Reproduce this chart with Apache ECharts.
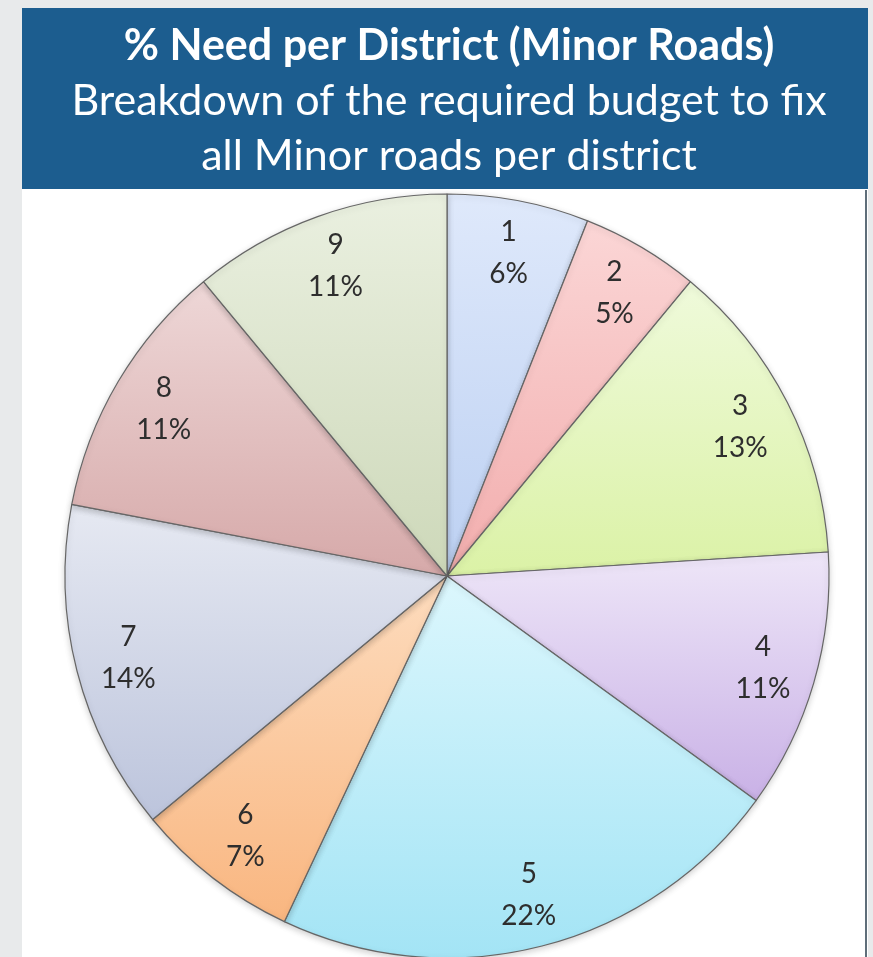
<!DOCTYPE html>
<html>
<head>
<meta charset="utf-8">
<script src="https://cdn.jsdelivr.net/npm/echarts@6/dist/echarts.min.js"></script>
<style>
html,body{margin:0;padding:0;background:#e8eaeb;}
#chart{width:873px;height:957px;}
</style>
</head>
<body>
<div id="chart"></div>
<script>
var districts = ['1','2','3','4','5','6','7','8','9'];
var shares = [6, 5, 13, 11, 22, 7, 14, 11, 11];
var titleMain = '% Need per District (Minor Roads)';
var titleSub = 'Breakdown of the required budget to fix\nall Minor roads per district';
var colorsTop = ['#dfe9fb','#fbd6d6','#effadb','#eee6f8','#dcf7fd','#fddcbe','#e6e9f2','#eed7d7','#eaf0e0'];
var colorsBottom = ['#bcd0f2','#f2adad','#dbf2a6','#c9b1e6','#a3e4f5','#f9b680','#bcc4dc','#d6a9a9','#cdd8b9'];

var chart = echarts.init(document.getElementById('chart'));
var pieData = districts.map(function(d, i){
  return {
    name: d,
    value: shares[i],
    itemStyle: {
      color: new echarts.graphic.LinearGradient(0, 0, 0, 1, [
        {offset: 0, color: colorsTop[i]},
        {offset: 1, color: colorsBottom[i]}
      ])
    }
  };
});
var labelData = districts.map(function(d, i){ return {name: d, value: shares[i]}; });

chart.setOption({
  backgroundColor: '#e8eaeb',
  animation: false,
  graphic: [
    {type: 'rect', shape: {x: 22, y: 188, width: 846, height: 769}, style: {fill: '#ffffff'}, z: -10},
    {type: 'rect', shape: {x: 22, y: 8, width: 846, height: 181}, style: {fill: '#1c5d8f'}, z: -10},
    {type: 'line', shape: {x1: 866, y1: 190, x2: 866, y2: 957}, style: {stroke: '#5f6e7a', lineWidth: 2}, z: -5}
  ],
  title: {
    text: titleMain,
    subtext: titleSub,
    left: 444,
    textAlign: 'center',
    top: 14,
    itemGap: 0,
    textStyle: {color: '#ffffff', fontFamily: 'Lato', fontWeight: 'bold', fontSize: 43, lineHeight: 55},
    subtextStyle: {color: '#ffffff', fontFamily: 'Lato', fontWeight: 'normal', fontSize: 43, lineHeight: 55}
  },
  series: [
    {
      type: 'pie',
      center: [447, 576],
      radius: [0, 382],
      startAngle: 90,
      clockwise: true,
      avoidLabelOverlap: false,
      silent: true,
      data: pieData,
      itemStyle: {
        borderColor: '#666666',
        borderWidth: 1.2,
        shadowColor: 'rgba(0,0,0,0.18)',
        shadowBlur: 6,
        shadowOffsetY: 2
      },
      label: {show: false},
      labelLine: {show: false}
    },
    {
      type: 'pie',
      center: [447, 576],
      radius: [270, 382],
      startAngle: 90,
      clockwise: true,
      avoidLabelOverlap: false,
      silent: true,
      data: labelData,
      itemStyle: {color: 'rgba(0,0,0,0)', borderWidth: 0},
      label: {
        show: true,
        position: 'inside',
        formatter: '{b}\n{c}%',
        color: '#2e2e2e',
        fontFamily: 'Lato',
        fontSize: 28,
        lineHeight: 42
      },
      labelLine: {show: false}
    }
  ]
});
</script>
</body>
</html>
